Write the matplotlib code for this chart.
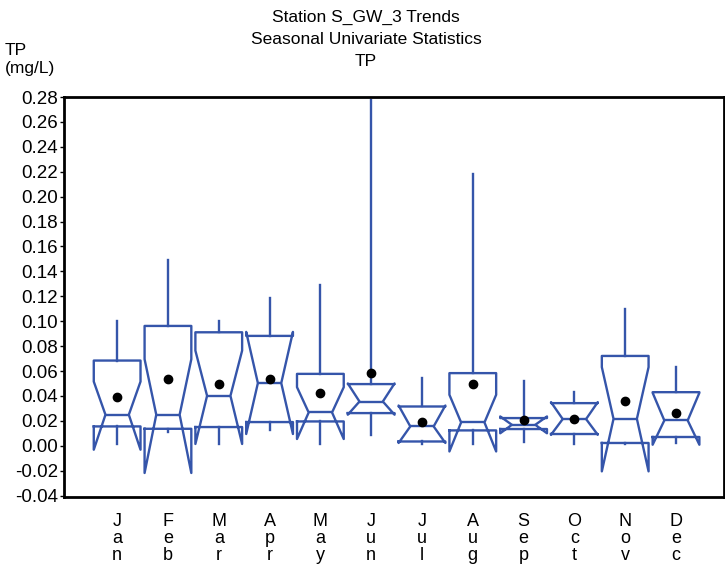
import matplotlib.pyplot as plt
import numpy as np

plt.rcParams['font.family'] = ['Liberation Sans', 'DejaVu Sans']

# Monthly box statistics for TP (mg/L)
months = ['Jan', 'Feb', 'Mar', 'Apr', 'May', 'Jun',
          'Jul', 'Aug', 'Sep', 'Oct', 'Nov', 'Dec']
whis_hi = [0.100, 0.149, 0.100, 0.119, 0.129, 0.278, 0.054, 0.218, 0.052, 0.0435, 0.110, 0.0636]
q3 = [0.0684, 0.0962, 0.0911, 0.0882, 0.0577, 0.0495, 0.0315, 0.0583, 0.0222, 0.0342, 0.0721, 0.0430]
ci_hi = [0.0515, 0.0695, 0.0764, 0.0914, 0.0470, 0.0500, 0.0323, 0.0409, 0.0235, 0.0350, 0.0631, 0.0425]
median = [0.0249, 0.0249, 0.0401, 0.0503, 0.0267, 0.0355, 0.0155, 0.0187, 0.0168, 0.0214, 0.0216, 0.0203]
ci_lo = [-0.0032, -0.0219, 0.0014, 0.0094, 0.0054, 0.0249, 0.0022, -0.0046, 0.0100, 0.0088, -0.0206, 0.0008]
q1 = [0.0155, 0.0136, 0.0150, 0.0190, 0.0195, 0.0262, 0.0034, 0.0123, 0.0134, 0.0094, 0.0022, 0.0070]
whis_lo = [0.0016, 0.0107, 0.0016, 0.0123, 0.0016, 0.0088, 0.0016, 0.0016, 0.0026, 0.0016, 0.0016, 0.0022]
means = [0.0395, 0.0537, 0.0497, 0.0535, 0.0422, 0.0588, 0.0187, 0.0497, 0.0208, 0.0214, 0.0361, 0.0262]

stats = []
for i in range(len(months)):
    stats.append(dict(label=months[i], med=median[i], q1=q1[i], q3=q3[i],
                      cilo=ci_lo[i], cihi=ci_hi[i], whislo=whis_lo[i],
                      whishi=whis_hi[i], mean=means[i], fliers=[]))

blue = '#3555aa'
fig = plt.figure(figsize=(7.25, 5.71), dpi=100)
ax = fig.add_axes([0.088, 0.130, 0.911, 0.700])

pos = np.arange(1, len(months) + 1)
ax.bxp(stats, positions=pos, widths=0.92, shownotches=True, showmeans=True,
       showcaps=False, showfliers=False,
       boxprops=dict(color=blue, linewidth=1.7),
       whiskerprops=dict(color=blue, linewidth=1.7),
       medianprops=dict(color=blue, linewidth=1.7),
       meanprops=dict(marker='o', markerfacecolor='black', markeredgecolor='black',
                      markersize=6))

ax.set_xlim(-0.05, 12.95)
ax.set_ylim(-0.041, 0.28)
ticks = np.arange(-0.04, 0.2801, 0.02)
ax.set_yticks(ticks)
ax.set_yticklabels(['%.2f' % v for v in ticks], fontsize=13.5)
ax.tick_params(axis='y', direction='out', length=3, width=1, pad=1)
ax.set_xticks(pos)
ax.set_xticklabels(['\n'.join(m) for m in months], fontsize=13, linespacing=1.0)
ax.tick_params(axis='x', length=0, pad=12)
for s in ax.spines.values():
    s.set_linewidth(2)

fig.text(0.505, 0.983, 'Station S_GW_3 Trends\nSeasonal Univariate Statistics\nTP',
         ha='center', va='top', fontsize=12.5, linespacing=1.6)
fig.text(0.007, 0.924, 'TP\n(mg/L)', ha='left', va='top', fontsize=12.5, linespacing=1.2)

fig.savefig('out.png')
